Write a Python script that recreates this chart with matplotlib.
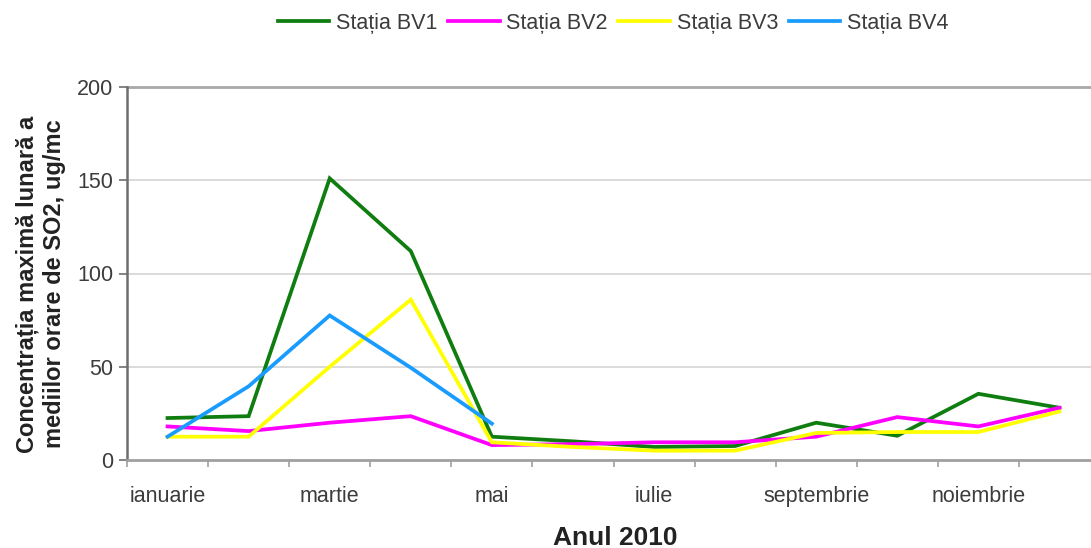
import numpy as np
import matplotlib
matplotlib.use("Agg")
import matplotlib.pyplot as plt

plt.rcParams['font.family'] = ['Liberation Sans', 'DejaVu Sans']

months = ["ianuarie", "februarie", "martie", "aprilie", "mai", "iunie",
          "iulie", "august", "septembrie", "octombrie", "noiembrie", "decembrie"]
bv1 = [22.5, 23.5, 151, 112, 12.5, 10, 7, 7.5, 20, 13, 35.5, 28]
bv2 = [18, 15.5, 20, 23.5, 8, 8.5, 9.5, 9.5, 12.5, 23, 18, 28]
bv3 = [12.5, 12.5, 50, 86, 9.5, 7, 5, 5, 14.5, 15, 15, 26]
bv4 = [12.5, 39.5, 77.5, 49.5, 19.5, np.nan, np.nan, np.nan, np.nan, np.nan, np.nan, np.nan]

series = [("Stația BV1", bv1, "#0f7d0f"),
          ("Stația BV2", bv2, "#ff00ff"),
          ("Stația BV3", bv3, "#ffff00"),
          ("Stația BV4", bv4, "#1a9cff")]

W, H = 1091, 548
fig = plt.figure(figsize=(W / 100, H / 100), dpi=100)
ax = fig.add_axes([127 / W, 1 - 460 / H, (1100 - 127) / W, (460 - 87) / H])

x = np.arange(len(months))
for name, vals, col in series:
    ax.plot(x, vals, color=col, lw=2.7, label=name, solid_joinstyle='miter')

ax.set_xlim(-0.5, 11.5)
ax.set_ylim(0, 200)

# grid
for v in (50, 100, 150):
    ax.axhline(v, color="#d4d4d4", lw=1.2, zorder=0)
ax.axhline(200, color="#a8a8a8", lw=2.0, zorder=0, clip_on=False)

for s in ("top", "right"):
    ax.spines[s].set_visible(False)
ax.spines["left"].set_color("#6e6e6e")
ax.spines["left"].set_linewidth(1.8)
ax.spines["bottom"].set_color("#a0a0a0")
ax.spines["bottom"].set_linewidth(2.0)

ax.set_yticks([0, 50, 100, 150, 200])
ax.tick_params(axis="y", length=6, width=1.2, color="#6e6e6e",
               labelsize=15.5, labelcolor="#3c3c3c", pad=4)

ax.set_xticks(x[::2])
ax.set_xticklabels(months[::2])
ax.set_xticks(np.arange(-0.5, 11.6, 1.0), minor=True)
ax.tick_params(axis="x", which="major", length=0, labelsize=15.5,
               labelcolor="#3c3c3c", pad=19)
ax.tick_params(axis="x", which="minor", length=5, width=1.2, color="#a0a0a0")

fig.text(41 / W, 1 - 284 / H,
         "Concentrația maximă lunară a\nmediilor orare de SO2, ug/mc",
         rotation=90, ha="center", va="center", fontsize=17,
         fontweight="bold", color="#222222", linespacing=1.2)
fig.text(615 / W, 1 - 538 / H, "Anul 2010", ha="center", va="center",
         fontsize=19, fontweight="bold", color="#222222")

leg = fig.legend(loc="center", bbox_to_anchor=(613 / W, 1 - 23 / H), ncol=4,
                 frameon=False, fontsize=15.5, handlelength=2.4,
                 handletextpad=0.3, columnspacing=0.5, borderaxespad=0)
for t in leg.get_texts():
    t.set_color("#3c3c3c")

fig.savefig("out.png", dpi=100)
